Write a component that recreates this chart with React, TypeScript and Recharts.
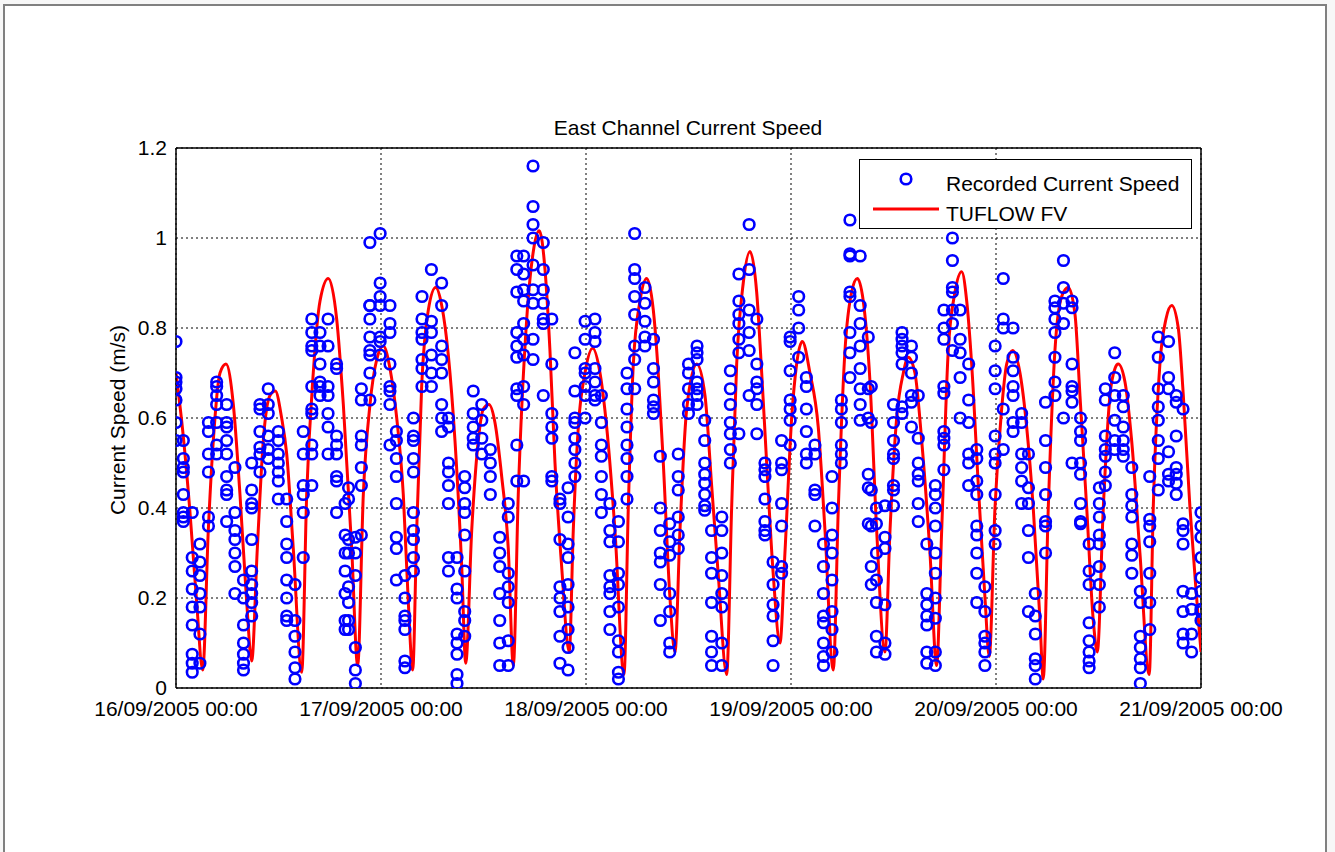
import React from 'react';
import { ComposedChart, Scatter, Line, XAxis, YAxis, CartesianGrid, Legend, ReferenceLine } from 'recharts';

// X axis: hours since 16/09/2005 00:00
const xTickHours = [0, 24, 48, 72, 96, 120];
const xTickLabels = [
  '16/09/2005 00:00',
  '17/09/2005 00:00',
  '18/09/2005 00:00',
  '19/09/2005 00:00',
  '20/09/2005 00:00',
  '21/09/2005 00:00',
];
const yTicks = [0, 0.2, 0.4, 0.6, 0.8, 1, 1.2];

// Recorded current speed (m/s): [hour, speeds...]
const recordedDay1: number[][] = [
  [0.0, 0.77, 0.69, 0.68, 0.665, 0.64, 0.59, 0.55],
  [0.86, 0.55, 0.51, 0.49, 0.48, 0.43, 0.39, 0.38, 0.37],
  [1.9, 0.39, 0.29, 0.26, 0.22, 0.18, 0.14, 0.075, 0.055, 0.035],
  [2.8, 0.32, 0.28, 0.25, 0.21, 0.18, 0.12, 0.055],
  [3.8, 0.59, 0.57, 0.52, 0.48, 0.38, 0.36],
  [4.76, 0.68, 0.67, 0.65, 0.63, 0.59, 0.54, 0.52],
  [5.93, 0.63, 0.59, 0.58, 0.55, 0.52, 0.47, 0.44, 0.43, 0.37],
  [6.9, 0.49, 0.39, 0.35, 0.33, 0.3, 0.27, 0.21],
  [7.9, 0.24, 0.2, 0.14, 0.1, 0.075, 0.055, 0.04],
  [8.86, 0.5, 0.44, 0.41, 0.4, 0.33, 0.26, 0.23, 0.21, 0.19, 0.16],
  [9.83, 0.63, 0.62, 0.57, 0.535, 0.52, 0.48],
  [10.8, 0.665, 0.63, 0.61, 0.56, 0.53, 0.51],
  [11.98, 0.57, 0.55, 0.52, 0.5, 0.48, 0.46, 0.42],
  [12.96, 0.42, 0.37, 0.32, 0.29, 0.24, 0.2, 0.16, 0.15],
  [13.93, 0.23, 0.15, 0.115, 0.08, 0.045, 0.02],
  [14.9, 0.57, 0.52, 0.45, 0.43, 0.39, 0.29],
  [15.9, 0.82, 0.79, 0.76, 0.75, 0.67, 0.62, 0.61, 0.54, 0.52, 0.45],
  [16.86, 0.79, 0.76, 0.72, 0.68, 0.67, 0.65],
  [17.8, 0.82, 0.76, 0.67, 0.65, 0.61, 0.58, 0.52],
  [18.8, 0.72, 0.71, 0.56, 0.54, 0.52, 0.47, 0.46, 0.39],
  [19.8, 0.41, 0.34, 0.3, 0.26, 0.21, 0.15, 0.13],
  [20.2, 0.445, 0.42, 0.33, 0.3, 0.225, 0.19, 0.15, 0.13],
  [21.0, 0.335, 0.3, 0.25, 0.09, 0.04, 0.01],
  [21.7, 0.665, 0.64, 0.56, 0.54, 0.49, 0.45, 0.34],
  [22.7, 0.99, 0.85, 0.85, 0.82, 0.78, 0.75, 0.74, 0.7, 0.64],
  [23.9, 1.01, 0.9, 0.87, 0.85, 0.78, 0.77, 0.74],
];

const recordedDay2: number[][] = [
  [25.05, 0.85, 0.81, 0.79, 0.72, 0.67, 0.66, 0.63, 0.54],
  [25.8, 0.57, 0.55, 0.51, 0.47, 0.41, 0.335, 0.31, 0.24],
  [26.8, 0.25, 0.2, 0.16, 0.15, 0.13, 0.06, 0.045],
  [27.8, 0.6, 0.56, 0.55, 0.51, 0.48, 0.39, 0.35, 0.33, 0.29, 0.26],
  [28.8, 0.87, 0.82, 0.79, 0.775, 0.73, 0.71, 0.67],
  [29.9, 0.93, 0.815, 0.79, 0.74, 0.7, 0.67],
  [31.1, 0.9, 0.85, 0.76, 0.73, 0.7, 0.63, 0.6, 0.57],
  [31.9, 0.6, 0.58, 0.5, 0.48, 0.45, 0.41, 0.29, 0.26],
  [32.9, 0.29, 0.22, 0.2, 0.12, 0.1, 0.075, 0.03, 0.01],
  [33.8, 0.47, 0.445, 0.41, 0.39, 0.34, 0.26, 0.17, 0.15, 0.115],
  [34.8, 0.66, 0.61, 0.58, 0.555, 0.54],
  [35.8, 0.63, 0.595, 0.555, 0.52],
  [36.8, 0.53, 0.5, 0.47, 0.43],
  [37.9, 0.335, 0.3, 0.27, 0.21, 0.15, 0.1, 0.05],
  [38.9, 0.41, 0.38, 0.255, 0.225, 0.19, 0.105, 0.05],
  [39.9, 0.96, 0.93, 0.88, 0.79, 0.76, 0.735, 0.665, 0.65, 0.54, 0.46],
  [40.7, 0.96, 0.92, 0.885, 0.86, 0.81, 0.775, 0.74, 0.67, 0.63, 0.46],
  [41.8, 1.16, 1.07, 1.03, 1.0, 0.94, 0.885, 0.855, 0.775, 0.73],
  [43.0, 0.99, 0.93, 0.885, 0.855, 0.82, 0.81, 0.65],
  [44.0, 0.82, 0.72, 0.61, 0.58, 0.555, 0.47, 0.46],
  [44.95, 0.42, 0.41, 0.33, 0.225, 0.2, 0.17, 0.115, 0.055],
  [45.9, 0.445, 0.38, 0.32, 0.29, 0.23, 0.18, 0.13, 0.09, 0.04],
  [46.7, 0.745, 0.66, 0.6, 0.59, 0.555, 0.53, 0.5, 0.47],
  [47.9, 0.815, 0.775, 0.71, 0.7, 0.67, 0.65, 0.6],
];

const recordedDay3: number[][] = [
  [49.05, 0.82, 0.79, 0.77, 0.71, 0.68, 0.65, 0.64],
  [49.8, 0.65, 0.59, 0.54, 0.515, 0.47, 0.43, 0.39],
  [50.8, 0.41, 0.35, 0.325, 0.25, 0.225, 0.21, 0.17, 0.13],
  [51.8, 0.37, 0.325, 0.255, 0.23, 0.18, 0.105, 0.08, 0.035, 0.02],
  [52.8, 0.7, 0.665, 0.62, 0.58, 0.54, 0.51, 0.47, 0.42],
  [53.7, 1.01, 0.93, 0.91, 0.87, 0.83, 0.76, 0.73, 0.665],
  [54.9, 0.89, 0.855, 0.815, 0.78, 0.76],
  [55.9, 0.775, 0.71, 0.68, 0.64, 0.625, 0.61],
  [56.7, 0.515, 0.4, 0.35, 0.3, 0.28, 0.23, 0.15],
  [57.8, 0.365, 0.325, 0.295, 0.21, 0.17, 0.1, 0.08],
  [58.8, 0.52, 0.47, 0.44, 0.38, 0.34, 0.31],
  [60.0, 0.72, 0.7, 0.665, 0.63, 0.61],
  [61.0, 0.76, 0.745, 0.73, 0.68, 0.665, 0.65, 0.63],
  [61.9, 0.595, 0.55, 0.5, 0.475, 0.455, 0.43, 0.405, 0.395],
  [62.7, 0.35, 0.29, 0.255, 0.19, 0.115, 0.08, 0.05],
  [63.9, 0.38, 0.35, 0.3, 0.25, 0.21, 0.18, 0.1, 0.05],
  [64.9, 0.705, 0.665, 0.63, 0.59, 0.565, 0.53, 0.5],
  [65.9, 0.92, 0.86, 0.83, 0.81, 0.775, 0.745, 0.565],
  [67.1, 1.03, 0.93, 0.84, 0.79, 0.75, 0.65],
  [68.0, 0.82, 0.72, 0.68, 0.665, 0.63, 0.565],
  [68.95, 0.5, 0.485, 0.47, 0.42, 0.37, 0.35, 0.34],
  [69.9, 0.28, 0.23, 0.185, 0.16, 0.105, 0.05],
  [70.9, 0.55, 0.5, 0.485, 0.41, 0.36, 0.27, 0.255],
  [71.9, 0.78, 0.77, 0.705, 0.64, 0.62, 0.595, 0.54],
];

const recordedDay4: number[][] = [
  [72.9, 0.87, 0.84, 0.8, 0.735],
  [73.8, 0.69, 0.67, 0.62, 0.57, 0.52, 0.5],
  [74.8, 0.54, 0.52, 0.44, 0.43, 0.36],
  [75.8, 0.32, 0.27, 0.21, 0.16, 0.145, 0.1, 0.07, 0.05],
  [76.8, 0.47, 0.4, 0.34, 0.3, 0.24, 0.17, 0.13, 0.08],
  [77.9, 0.64, 0.62, 0.59, 0.54, 0.52, 0.5],
  [78.9, 1.04, 0.965, 0.96, 0.88, 0.87, 0.79, 0.745, 0.69],
  [80.1, 0.96, 0.85, 0.81, 0.76, 0.71, 0.665, 0.63, 0.595],
  [81.05, 0.78, 0.665, 0.6, 0.475, 0.445, 0.365],
  [81.4, 0.67, 0.59, 0.44, 0.36, 0.27, 0.23],
  [82.0, 0.4, 0.365, 0.3, 0.24, 0.19, 0.115, 0.08],
  [83.0, 0.405, 0.335, 0.31, 0.185, 0.1, 0.075],
  [84.0, 0.63, 0.59, 0.55, 0.52, 0.51, 0.45, 0.44, 0.405],
  [85.0, 0.79, 0.775, 0.76, 0.745, 0.72, 0.625, 0.61],
  [86.1, 0.76, 0.735, 0.7, 0.65, 0.635, 0.58],
  [86.9, 0.65, 0.555, 0.5, 0.475, 0.46, 0.41, 0.37],
  [87.9, 0.32, 0.21, 0.185, 0.16, 0.14, 0.08, 0.055],
  [88.9, 0.45, 0.43, 0.4, 0.36, 0.3, 0.255, 0.2, 0.155, 0.08, 0.05],
  [89.9, 0.84, 0.8, 0.775, 0.67, 0.655, 0.57, 0.555, 0.54, 0.485],
  [90.9, 1.0, 0.95, 0.89, 0.88, 0.84, 0.81, 0.75],
  [91.8, 0.84, 0.775, 0.745, 0.69, 0.6],
  [92.8, 0.72, 0.64, 0.59, 0.52, 0.5, 0.45],
  [93.75, 0.53, 0.51, 0.46, 0.43, 0.36, 0.34, 0.3, 0.255, 0.19],
  [94.7, 0.225, 0.17, 0.115, 0.1, 0.08, 0.05],
  [95.9, 0.76, 0.705, 0.665, 0.56, 0.52, 0.5, 0.43, 0.35, 0.32],
];

const recordedDay5: number[][] = [
  [96.85, 0.91, 0.82, 0.8, 0.62, 0.53],
  [98.0, 0.8, 0.735, 0.705, 0.67, 0.65, 0.59, 0.57],
  [99.0, 0.61, 0.59, 0.52, 0.49, 0.46, 0.41],
  [99.8, 0.52, 0.445, 0.41, 0.35, 0.29, 0.17],
  [100.6, 0.21, 0.16, 0.12, 0.065, 0.05, 0.02],
  [101.8, 0.635, 0.55, 0.49, 0.43, 0.37, 0.36, 0.3],
  [102.9, 0.86, 0.845, 0.82, 0.79, 0.735, 0.68, 0.65],
  [103.9, 0.95, 0.89, 0.855, 0.81, 0.6],
  [104.9, 0.86, 0.845, 0.72, 0.67, 0.66, 0.635, 0.5],
  [105.9, 0.6, 0.57, 0.55, 0.5, 0.475, 0.41, 0.37, 0.365],
  [106.9, 0.32, 0.26, 0.23, 0.145, 0.105, 0.08, 0.06, 0.045],
  [108.1, 0.445, 0.41, 0.38, 0.34, 0.32, 0.27, 0.23, 0.18],
  [108.8, 0.665, 0.64, 0.56, 0.53, 0.515, 0.48, 0.45],
  [109.9, 0.745, 0.69, 0.65, 0.595, 0.55, 0.53],
  [110.9, 0.65, 0.625, 0.58, 0.55, 0.53, 0.515],
  [111.9, 0.49, 0.43, 0.405, 0.38, 0.32, 0.295, 0.255],
  [112.9, 0.215, 0.19, 0.115, 0.09, 0.065, 0.045, 0.01],
  [114.0, 0.47, 0.375, 0.36, 0.325, 0.255, 0.19, 0.13],
  [115.0, 0.78, 0.735, 0.665, 0.625, 0.595, 0.55, 0.51, 0.44],
  [116.2, 0.77, 0.69, 0.665, 0.525, 0.475, 0.46],
  [117.1, 0.65, 0.635, 0.56, 0.49, 0.475, 0.455, 0.43],
  [117.9, 0.62, 0.365, 0.35, 0.32, 0.215, 0.17, 0.12, 0.1],
  [118.9, 0.21, 0.175, 0.12, 0.08],
  [120.0, 0.39, 0.36, 0.335, 0.29, 0.245, 0.215, 0.175, 0.17, 0.15],
];

// TUFLOW FV modelled speed (m/s)
const modelHours = [
  0.0, 0.85, 1.64, 2.42, 3.13, 3.78, 4.37, 5.15, 5.85, 6.71, 7.49, 8.28, 8.86, 9.52, 10.22, 11.0, 11.62, 12.37,
  12.96, 13.73, 14.72, 15.3, 16.07, 16.86, 17.83, 18.81, 19.59, 20.57, 21.27, 21.93, 22.71, 23.5, 24.27, 25.05,
  25.84, 26.61, 27.2, 27.71, 28.18, 28.76, 29.54, 30.4, 31.11, 31.88, 32.66, 33.45, 33.92, 34.62, 35.39, 35.98,
  36.64, 37.34, 38.13, 38.9, 39.49, 40.07, 41.06, 41.83, 42.53, 43.2, 43.78, 44.37, 45.15, 46.04, 46.51, 47.1,
  47.88, 48.78, 49.64, 50.42, 51.39, 52.45, 52.95, 53.54, 54.32, 55.1, 55.88, 56.46, 57.05, 57.83, 58.42, 59.0,
  59.79, 60.96, 61.93, 62.71, 63.49, 64.47, 65.05, 65.64, 66.41, 67.2, 67.98, 68.57, 69.15, 69.93, 70.71, 71.29,
  72.08, 72.66, 73.32, 74.22, 75.19, 75.98, 76.95, 77.54, 78.32, 79.1, 79.76, 80.46, 81.25, 82.03, 83.0, 83.59,
  84.37, 85.15, 85.73, 86.51, 87.3, 88.27, 89.05, 89.64, 90.41, 91.2, 91.98, 92.57, 93.15, 93.93, 94.71, 95.21,
  95.88, 96.66, 97.25, 97.95, 98.81, 99.59, 100.36, 101.15, 101.53, 102.12, 102.9, 103.69, 104.46, 105.25, 105.83,
  106.62, 107.39, 107.86, 108.56, 109.34, 109.93, 110.31, 111.1, 111.88, 112.85, 113.94, 114.41, 115.19, 115.9,
  116.57, 117.34, 117.93, 118.71, 119.49, 120.0,
];
const modelSpeed = [
  0.7, 0.56, 0.39, 0.19, 0.04, 0.35, 0.55, 0.7, 0.72, 0.63, 0.43, 0.19, 0.06, 0.31, 0.55, 0.65, 0.66, 0.6,
  0.52, 0.31, 0.035, 0.43, 0.7, 0.86, 0.91, 0.82, 0.63, 0.31, 0.05, 0.43, 0.63, 0.73, 0.76, 0.71,
  0.6, 0.43, 0.19, 0.04, 0.35, 0.67, 0.84, 0.89, 0.85, 0.74, 0.55, 0.27, 0.055, 0.35, 0.55, 0.62,
  0.63, 0.59, 0.47, 0.31, 0.05, 0.43, 0.82, 0.97, 1.016, 0.93, 0.75, 0.5, 0.27, 0.08, 0.35, 0.58,
  0.7, 0.755, 0.7, 0.58, 0.35, 0.03, 0.4, 0.72, 0.86, 0.91, 0.84, 0.7, 0.5, 0.2, 0.08, 0.35,
  0.62, 0.72, 0.65, 0.45, 0.25, 0.03, 0.4, 0.72, 0.9, 0.97, 0.88, 0.7, 0.5, 0.25, 0.1, 0.3,
  0.6, 0.72, 0.77, 0.7, 0.58, 0.35, 0.04, 0.4, 0.75, 0.88, 0.91, 0.86, 0.68, 0.35, 0.08, 0.35,
  0.6, 0.7, 0.735, 0.7, 0.55, 0.3, 0.05, 0.35, 0.75, 0.88, 0.925, 0.86, 0.72, 0.45, 0.2, 0.07,
  0.4, 0.62, 0.72, 0.75, 0.7, 0.58, 0.4, 0.15, 0.02, 0.4, 0.75, 0.87, 0.89, 0.83, 0.65,
  0.4, 0.15, 0.08, 0.4, 0.65, 0.71, 0.72, 0.68, 0.55, 0.3, 0.03, 0.4, 0.72, 0.82,
  0.85, 0.8, 0.65, 0.4, 0.2, 0.08,
];

const FONT = '"Liberation Sans", Arial, Helvetica, sans-serif';
const MARKER_R = 5.3;
const MARKER_W = 2.6;

const RecordedMarker = (props: any) => {
  const { cx, cy } = props;
  if (cx == null || cy == null) return <g />;
  return <circle cx={cx} cy={cy} r={MARKER_R} fill="none" stroke="#0000ff" strokeWidth={MARKER_W} />;
};

const LegendBox = () => (
  <div
    style={{
      width: 333,
      height: 70,
      boxSizing: 'border-box',
      border: '1.5px solid #000',
      background: '#fff',
      position: 'relative',
    }}
  >
    <svg width={333} height={70} style={{ position: 'absolute', left: -1.5, top: -1.5 }}>
      <circle cx={47} cy={20} r={MARKER_R} fill="none" stroke="#0000ff" strokeWidth={MARKER_W} />
      <line x1={14} y1={50} x2={80} y2={50} stroke="#ff0000" strokeWidth={3} />
      <text x={87} y={24} dominantBaseline="central" fontFamily={FONT} fontSize={21} fill="#000">
        Recorded Current Speed
      </text>
      <text x={87} y={54} dominantBaseline="central" fontFamily={FONT} fontSize={21} fill="#000">
        TUFLOW FV
      </text>
    </svg>
  </div>
);

export default function App() {
  const recorded = [...recordedDay1, ...recordedDay2, ...recordedDay3, ...recordedDay4, ...recordedDay5].flatMap(
    ([t, ...vs]) => vs.map((v) => ({ t, v }))
  );
  const model = modelHours.map((t, i) => ({ t, v: modelSpeed[i] }));

  return (
    <div style={{ position: 'absolute', left: 0, top: 0, width: 1335, height: 852, background: '#f7f7f7', overflow: 'hidden' }}>
      <div
        style={{
          position: 'absolute',
          left: 3,
          top: 4,
          width: 1320,
          height: 900,
          background: '#fff',
          borderLeft: '2px solid #808080',
          borderTop: '2px solid #808080',
          borderRight: '2px solid #808080',
        }}
      />
      <div style={{ position: 'absolute', left: 0, top: 0 }}>
        <ComposedChart width={1335} height={852} margin={{ top: 148, right: 134, bottom: 134, left: 116 }}>
          <CartesianGrid stroke="#000" strokeDasharray="2 3" strokeWidth={1} />
          <XAxis
            dataKey="t"
            type="number"
            domain={[0, 120]}
            ticks={xTickHours}
            tickFormatter={(h: number) => xTickLabels[xTickHours.indexOf(h)]}
            interval={0}
            height={30}
            axisLine={{ stroke: '#000', strokeWidth: 1.5 }}
            tickLine={false}
            tickSize={6}
            tickMargin={7}
            tick={{ fill: '#000', fontSize: 21, fontFamily: FONT }}
            allowDataOverflow
          />
          <YAxis
            type="number"
            domain={[0, 1.2]}
            ticks={yTicks}
            interval={0}
            width={60}
            axisLine={{ stroke: '#000', strokeWidth: 1.5 }}
            tickLine={false}
            tickSize={6}
            tickMargin={3}
            tick={{ fill: '#000', fontSize: 21, fontFamily: FONT }}
            tickFormatter={(v: number) => String(v)}
            allowDataOverflow
          />
          <ReferenceLine y={1.2} stroke="#000" strokeWidth={1.5} />
          <ReferenceLine x={120} stroke="#000" strokeWidth={1.5} />
          <Scatter
            name="Recorded Current Speed"
            data={recorded}
            dataKey="v"
            shape={RecordedMarker}
            isAnimationActive={false}
          />
          <Line
            name="TUFLOW FV"
            data={model}
            dataKey="v"
            type="monotone"
            stroke="#ff0000"
            strokeWidth={3}
            dot={false}
            activeDot={false}
            isAnimationActive={false}
          />
          <Legend
            layout="horizontal"
            verticalAlign="middle"
            align="center"
            content={() => <LegendBox />}
            wrapperStyle={{ position: 'absolute', left: 859, top: 159, width: 333, height: 70 }}
          />
        </ComposedChart>
      </div>
      <div
        style={{
          position: 'absolute',
          left: 688,
          top: 128,
          transform: 'translate(-50%, -50%)',
          fontFamily: FONT,
          fontSize: 21,
          color: '#000',
          whiteSpace: 'nowrap',
        }}
      >
        East Channel Current Speed
      </div>
      <div
        style={{
          position: 'absolute',
          left: 118,
          top: 420,
          transform: 'translate(-50%, -50%) rotate(-90deg)',
          fontFamily: FONT,
          fontSize: 21,
          color: '#000',
          whiteSpace: 'nowrap',
        }}
      >
        Current Speed (m/s)
      </div>
    </div>
  );
}
